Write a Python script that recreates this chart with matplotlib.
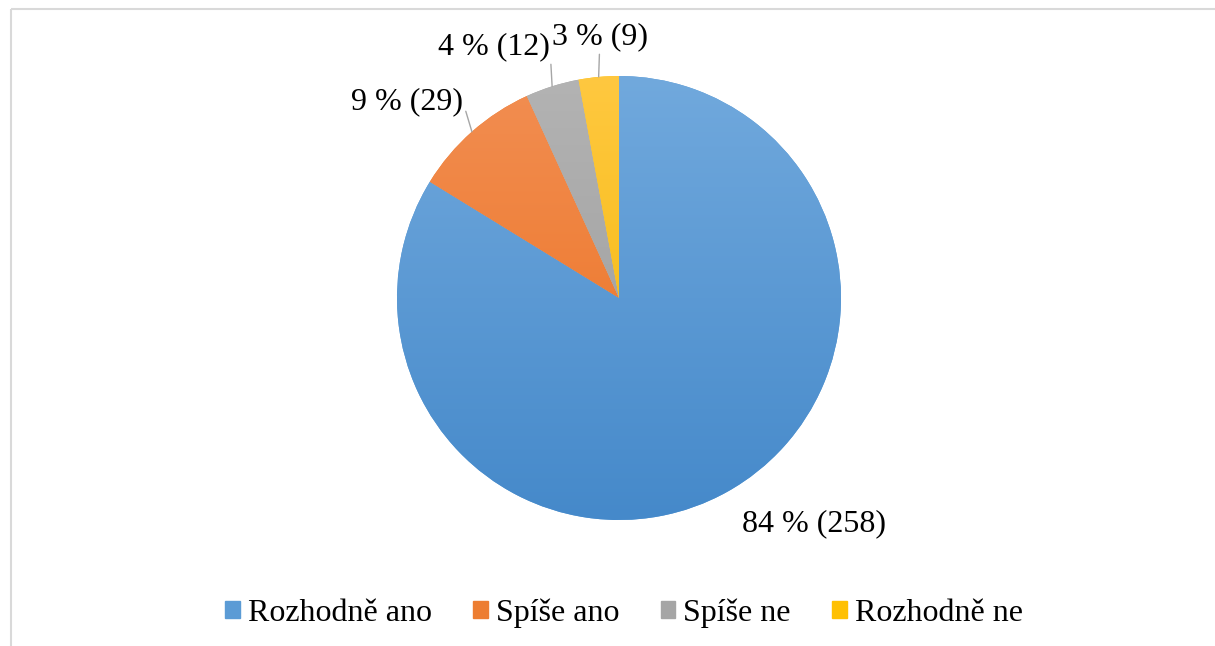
import numpy as np
import matplotlib.pyplot as plt
from matplotlib.colors import LinearSegmentedColormap

# Datos
categorias = ["Rozhodně ano", "Spíše ano", "Spíše ne", "Rozhodně ne"]
valores = [258, 29, 12, 9]
porcentajes = [84, 9, 4, 3]

colores_arriba = ["#71a9dd", "#f28e52", "#b3b3b3", "#ffc840"]
colores_abajo = ["#4589ca", "#eb6f1c", "#999999", "#f2b600"]
colores_leyenda = ["#5b9bd5", "#ed7d31", "#a5a5a5", "#ffc000"]

plt.rcParams['font.family'] = ['Liberation Serif', 'DejaVu Serif']

fig = plt.figure(figsize=(12.15, 6.46), dpi=100)
ax = fig.add_axes([0, 0, 1, 1])

centro = (619, 348)
radio = 222

# Marco (solo arriba e izquierda, el resto está recortado)
ax.plot([11, 1215], [637, 637], color='#d9d9d9', lw=1.5, solid_capstyle='butt')
ax.plot([11, 11], [637, 0], color='#d9d9d9', lw=1.5, solid_capstyle='butt')

cunas, _ = ax.pie(valores, colors=colores_leyenda, startangle=90, counterclock=False,
                  center=centro, radius=radio, frame=True)
ax.set_xlim(0, 1215)
ax.set_ylim(0, 646)
ax.axis('off')

# Degradado vertical en cada porción
extent = (centro[0] - radio, centro[0] + radio, centro[1] - radio, centro[1] + radio)
grad = np.linspace(0, 1, 256).reshape(-1, 1)
for cuna, c1, c2 in zip(cunas, colores_arriba, colores_abajo):
    cmap = LinearSegmentedColormap.from_list('g', [c2, c1])
    im = ax.imshow(grad, cmap=cmap, extent=extent, origin='lower', aspect='auto', zorder=2)
    im.set_clip_path(cuna)
    cuna.set_edgecolor('none')

# Etiquetas
etiquetas = [f"{p} % ({v})" for p, v in zip(porcentajes, valores)]
pos_texto = [(814, 122), (407, 544), (494, 599), (600, 609)]
relpos = [None, (1.0, 0.5), (1.0, 0.5), (0.5, 0.5)]
for cuna, txt, pt, rp in zip(cunas, etiquetas, pos_texto, relpos):
    ang = np.deg2rad((cuna.theta1 + cuna.theta2) / 2)
    borde = (centro[0] + radio * np.cos(ang), centro[1] + radio * np.sin(ang))
    if rp is None:
        ax.text(pt[0], pt[1], txt, fontsize=23, ha='center', va='center', color='#000000')
    else:
        ax.annotate(txt, xy=borde, xytext=pt, fontsize=23, ha='center', va='center',
                    arrowprops=dict(arrowstyle='-', color='#a6a6a6', lw=1,
                                    shrinkA=0, shrinkB=0, relpos=rp))

# Leyenda
handles = [plt.Rectangle((0, 0), 1, 1, color=c) for c in colores_leyenda]
ax.legend(handles, categorias, loc='center', bbox_to_anchor=(624 / 1215, 33 / 646),
          ncol=4, frameon=False, fontsize=23, handlelength=0.45, handleheight=0.45,
          handletextpad=0.25, columnspacing=1.3, borderpad=0)

fig.savefig('out.png', dpi=100)
